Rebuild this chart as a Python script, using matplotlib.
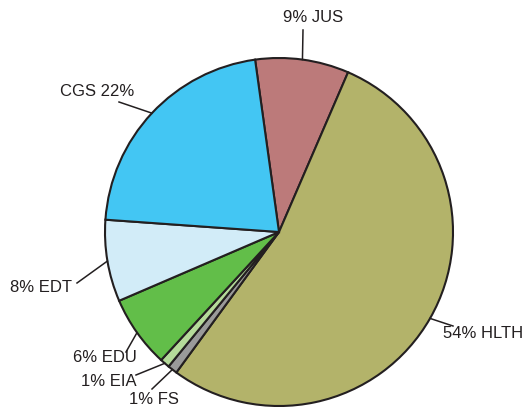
import matplotlib
matplotlib.use('Agg')
import matplotlib.pyplot as plt
import numpy as np

# slice data (clockwise from the top)
names = ['JUS', 'HLTH', 'FS', 'EIA', 'EDU', 'EDT', 'CGS']
values = [8.7, 53.6, 0.9, 0.9, 6.7, 7.6, 21.7]
labels = ['9% JUS', '54% HLTH', '1% FS', '1% EIA', '6% EDU', '8% EDT', 'CGS 22%']
colors = ['#bc7a7a', '#b3b36a', '#9a9a9a', '#b5db9a', '#62be49', '#d2ecf8', '#43c6f3']

# label layout in pixels (x, y from top), text alignment and leader-line ends
W, H = 523, 407
text_pos = [(313, 18), (443, 334), (129, 400), (137, 382), (137, 358), (72, 288), (60, 92)]
text_ha = ['center', 'left', 'left', 'right', 'right', 'right', 'left']
line_end = [(303, 30), (453, 326), (152, 389), (136, 375), (126, 352), (77, 283), (119, 102)]

plt.rcParams['font.family'] = ['Liberation Sans', 'DejaVu Sans']
fig = plt.figure(figsize=(W / 100, H / 100), dpi=100)
ax = fig.add_axes([0, 0, 1, 1])
ax.axis('off')

cx, cy, r = 279, H - 232, 174
wedges, _ = ax.pie(values, colors=colors, startangle=97.9, counterclock=False,
                   center=(cx, cy), radius=r, normalize=True,
                   wedgeprops=dict(edgecolor='#231f20', linewidth=1.5))
ax.set_xlim(0, W)
ax.set_ylim(0, H)
ax.set_aspect('equal')

for w, lab, tp, ha, le in zip(wedges, labels, text_pos, text_ha, line_end):
    mid = np.deg2rad((w.theta1 + w.theta2) / 2)
    sx, sy = cx + r * np.cos(mid), cy + r * np.sin(mid)
    ax.plot([sx, le[0]], [sy, H - le[1]], color='#231f20', lw=1.1)
    ax.text(tp[0], H - tp[1], lab, ha=ha, va='center', fontsize=12, color='#231f20')

plt.savefig('out.png', dpi=100)
